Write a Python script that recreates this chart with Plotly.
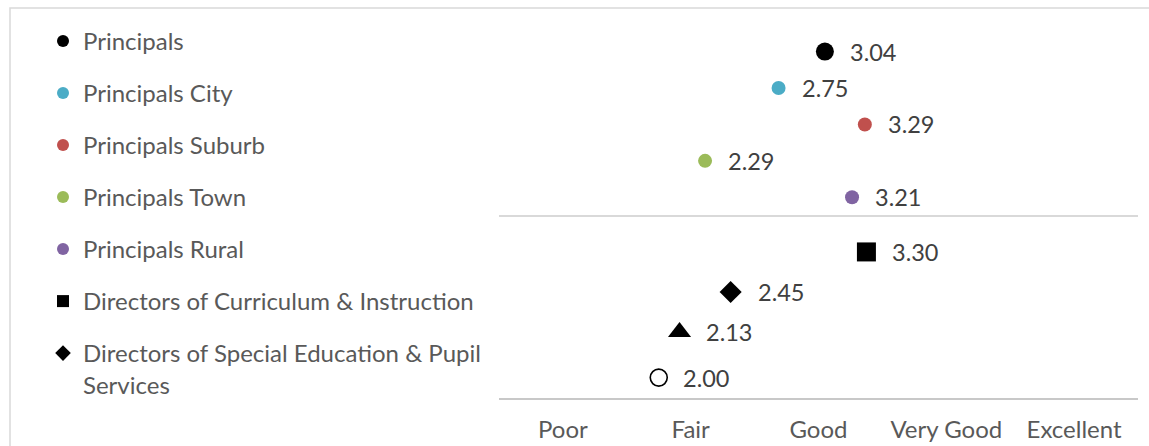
import plotly.graph_objects as go

# Ratings on a 1 (Poor) to 5 (Excellent) scale
groups = [
    "Principals",
    "Principals City",
    "Principals Suburb",
    "Principals Town",
    "Principals Rural",
    "Directors of Curriculum & Instruction",
    "Directors of Special Education & Pupil<br>Services",
    "Group 8",
    "Group 9",
]
scores = [3.04, 2.75, 3.29, 2.29, 3.21, 3.30, 2.45, 2.13, 2.00]
row_y = [9.5, 8.5, 7.5, 6.5, 5.5, 4.0, 2.9, 1.8, 0.55]
in_legend = [True, True, True, True, True, True, True, False, False]

rating_labels = ["Poor", "Fair", "Good", "Very Good", "Excellent"]
rating_centers = [1.4, 2.2, 3.0, 3.8, 4.6]

# marker styling per group
symbols = ["circle", "circle", "circle", "circle", "circle",
           "square", "diamond", "triangle-up", "circle-open"]
colors = ["#000000", "#4bacc6", "#c0504d", "#9bbb59", "#8064a2",
          "#000000", "#000000", "#000000", "#000000"]
sizes = [18, 14, 14, 14, 14, 19, 17, 20, 17]

FONT = "Lato"
LEGEND_SIZE = 24

# plotly's diamond is 1.3x wider than its nominal size
WIDTH_FACTOR = {"diamond": 1.3}

fig = go.Figure()
for i, name in enumerate(groups):
    fig.add_trace(go.Scatter(
        x=[scores[i]], y=[row_y[i]],
        mode="markers",
        name=name,
        legendgroup=f"g{i}",
        showlegend=in_legend[i],
        marker=dict(symbol=symbols[i], color=colors[i], size=sizes[i],
                    line=dict(width=1.6 if symbols[i] == "circle-open" else 0,
                              color=colors[i])),
        hovertemplate="%{x:.2f}<extra>" + name.replace("<br>", " ") + "</extra>",
    ))
    half_width = sizes[i] * WIDTH_FACTOR.get(symbols[i], 1.0) / 2
    fig.add_annotation(
        x=scores[i], y=row_y[i], text=f"{scores[i]:.2f}",
        showarrow=False, xanchor="left", yanchor="middle",
        xshift=half_width + 14,
        font=dict(family=FONT, size=23.5, color="#404040"),
    )

W, H = 1149, 446
ml, mr, mt, mb = 499, 11, 33, 48
pw, ph = W - ml - mr, H - mt - mb


def px_to_paper_x(px):
    return (px - ml) / pw


def px_to_paper_y(py):
    return (H - mb - py) / ph


# outer chart-area border (top and left edges visible)
fig.add_shape(type="rect", xref="paper", yref="paper",
              x0=px_to_paper_x(10), x1=px_to_paper_x(1200),
              y0=px_to_paper_y(500), y1=px_to_paper_y(8),
              line=dict(color="#d9d9d9", width=1.5), fillcolor="rgba(0,0,0,0)",
              layer="below")

fig.update_layout(
    width=W, height=H,
    margin=dict(l=ml, r=mr, t=mt, b=mb, pad=0, autoexpand=False),
    paper_bgcolor="white", plot_bgcolor="white",
    font=dict(family=FONT, color="#595959"),
    showlegend=True,
    legend=dict(
        x=px_to_paper_x(43), xanchor="left",
        yref="container", y=1 - 19 / H, yanchor="top",
        font=dict(family=FONT, size=LEGEND_SIZE, color="#595959"),
        itemsizing="constant",
        tracegroupgap=52 - (LEGEND_SIZE * 1.3 + 3),
        valign="top",
        maxheight=H,
        bgcolor="rgba(0,0,0,0)",
    ),
    xaxis=dict(
        range=[1, 5], showgrid=False, zeroline=False, automargin=False,
        tickmode="array", tickvals=rating_centers, ticktext=rating_labels,
        ticks="", showline=True, linecolor="#c8c8c8", linewidth=1.5,
        tickfont=dict(family=FONT, size=24, color="#595959"),
        ticklabelstandoff=9,
        fixedrange=True,
    ),
    yaxis=dict(
        range=[-0.01, 10.01], showticklabels=False, ticks="",
        tickmode="array", tickvals=[0, 5, 10], automargin=False,
        showgrid=True, gridcolor="#d9d9d9", gridwidth=1.5,
        zeroline=False, showline=False, fixedrange=True,
    ),
)

fig.write_html("out.html")
